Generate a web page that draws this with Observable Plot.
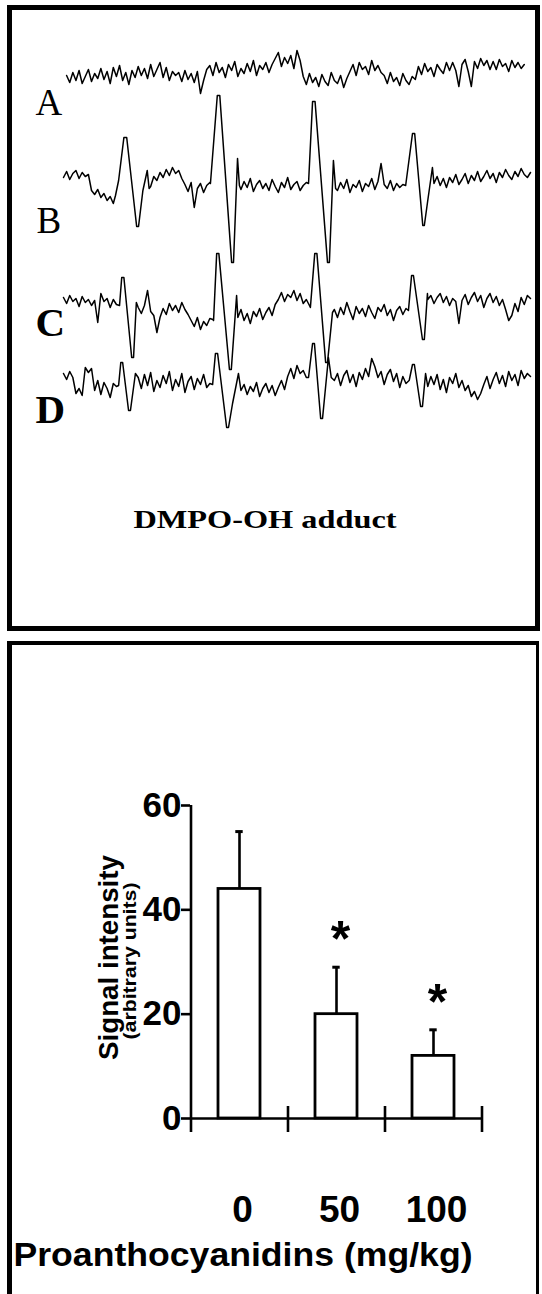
<!DOCTYPE html>
<html>
<head>
<meta charset="utf-8">
<script src="https://cdn.jsdelivr.net/npm/d3@7"></script>
<script src="https://cdn.jsdelivr.net/npm/@observablehq/plot@0.6"></script>
<style>
html,body{margin:0;padding:0;background:#fff;}
#page{position:relative;width:542px;height:1294px;overflow:hidden;background:#fff;}
.box{position:absolute;box-sizing:border-box;border-style:solid;border-color:#000;background:transparent;}
#topbox{left:7px;top:5px;width:533px;height:626px;border-width:5px;}
#botbox{left:7px;top:641px;width:532px;height:700px;border-width:4.5px 3px 0 5px;}
#page svg{position:absolute;left:0;}
</style>
</head>
<body>
<div id="page"></div>
<script>
// ---------- Top panel: ESR spectra (DMPO-OH adduct) ----------
const _ = null;
const traceNames = ["A", "B", "C", "D"];
const traceStart = [1, 0, 0, 0];          // first field sample of each trace
const traceOffset = [0, -106, -231, -308]; // vertical stacking of the spectra

// baseline readings (signal, arbitrary units) at field steps of 1; null = inside a line
const noiseA = [-1,-8,2,-6,4,-9,-2,5,-7,1,-4,6,
 -5,3,-9,7,-2,9,-6,2,-10,4,-3,8,-1,
 6,-4,10,-2,5,12,-3,7,-6,3,-1,
 2,-7,4,-5,1,-8,3,-19,-6,5,
 9,-1,12,2,7,-3,10,4,13,-2,6,
 1,11,3,14,-1,9,5,12,2,10,
 16,22,8,17,11,19,6,24,14,
 -2,-10,1,-8,-3,-12,0,-7,-11,2,-6,-9,-1,-13,-4,
 3,10,-1,12,5,8,0,14,4,9,2,
 -1,-9,2,-7,-3,-11,1,-6,-10,-2,-5,
 8,0,11,3,7,-2,10,5,1,12,4,
 12,4,-12,10,15,3,-12,13,6,16,9,14,5,
 13,5,15,8,11,3,14,7,12,6,10];
const noiseB = [3,9,1,7,10,2,8,4,6,
 -10,-14,-9,-17,-13,-20,-16,-23,
 _,_,_,_,_,_,_,_,_,_,_,
 -6,4,0,8,3,11,5,13,7,10,2,
 -4,-11,-2,-27,-8,-3,-12,-5,-2,
 _,_,_,_,_,_,_,_,_,
 -9,-1,-7,2,-11,-4,0,-8,-3,-10,1,-6,-12,-2,-7,3,-9,-4,-1,-10,-5,-2,
 _,_,_,_,_,_,_,_,_,
 -10,-2,-8,1,-12,-4,-7,0,-11,-3,-6,2,-9,-1,17,-4,-8,0,-10,-3,-7,-4,
 _,_,_,_,_,_,_,_,_,
 -3,4,-5,2,-7,3,-2,6,-4,1,7,-3,5,0,9,-1,4,10,2,7,-2,8,3,11,5,1,9,4,12,6,3,8];
const noiseC = [8,2,10,4,7,-1,9,3,6,0,5,-17,
 12,4,7,-2,6,1,
 _,_,_,_,_,_,
 -2,-8,0,15,-6,-10,-27,-12,-3,-9,2,-5,0,-7,3,-4,-9,-15,-21,-12,-24,-16,-20,-13,
 -14,
 _,_,_,_,_,_,_,
 -12,-4,-15,-8,-18,-6,-11,-3,-14,-7,-2,-10,1,6,13,4,11,8,15,5,12,2,6,
 0,
 _,_,_,_,_,_,_,
 -4,-12,-2,-9,3,-6,-14,-1,-8,-3,-11,0,-7,-13,-2,-6,1,-10,-4,-15,-5,-1,-9,-3,
 _,_,_,_,_,_,
 6,10,2,8,12,3,9,0,7,4,-18,5,11,1,8,13,4,10,-2,7,12,3,9,0,6,-4,-15,-10,2,-6,8,1,10,7];
const noiseD = [9,3,11,5,
 -11,-6,-13,
 15,10,14,
 -8,2,-12,0,-6,-15,-1,-4,
 _,_,_,_,_,_,
 5,-6,8,-3,10,-9,2,-5,7,-1,11,-8,3,-4,9,-10,1,6,-7,4,-2,8,-5,-1,
 _,_,_,_,_,_,_,_,_,
 -8,-2,-12,-4,-9,0,-14,-6,-1,-10,-3,-13,-5,2,-7,6,14,4,17,9,12,5,
 _,_,_,_,_,_,_,_,
 2,9,-3,7,12,0,8,-4,10,3,14,6,24,16,5,11,-2,8,13,1,9,-5,6,-1,2,
 _,_,_,_,_,
 -4,6,-2,8,-7,3,-10,5,-1,9,-5,2,-8,-3,-14,-9,-17,-11,-2,6,-6,3,10,-1,7,-4,11,2,8,-3,12,4,9,6];

// the four DMPO-OH lines, [field, signal]
const linesA = [];
const linesB = [[16.7,-15],[17.7,0],[19.4,43],[20.3,43],[23.5,-46],[24.1,-46],[25.5,-10],[26.9,10],[27.5,-8],
 [47.2,-3],[49.4,85],[50.2,85],[54.0,-82],[54.6,-82],[55.9,22],[56.5,-5],
 [78.7,-3],[80.0,79],[80.8,79],[84.8,-82],[85.4,-82],[86.7,20],[87.4,-8],
 [109.9,-5],[112.1,47],[112.8,47],[115.4,-45],[115.9,-45],[117.0,-20],[118.5,13]];
const linesC = [[18.0,0],[18.7,28],[19.4,28],[21.9,-52],[22.5,-52],[23.4,3],
 [48.2,-15],[49.2,52],[49.9,52],[53.3,-64],[53.9,-64],[55.6,10],
 [79.3,-2],[80.7,52],[81.4,52],[84.2,-57],[84.8,-57],[86.4,-7],
 [110.8,-5],[111.8,30],[112.4,30],[115.3,-34],[115.9,-34],[116.9,12]];
const linesD = [[17.7,-3],[18.4,20],[19.0,20],[20.9,-28],[21.5,-28],[23.1,9],
 [47.9,-2],[48.8,29],[49.5,29],[52.4,-45],[53.0,-45],[54.3,-21],[56.2,9],
 [78.7,5],[80.0,39],[80.6,39],[82.6,-36],[83.2,-36],[85.1,25],[86.0,5],
 [111.1,3],[112.1,18],[112.7,18],[114.7,-24],[115.3,-24],[116.3,9]];
const spectrumCaption = "DMPO-OH adduct";

// ---------- Bottom panel: bar chart ----------
const doses = ["0", "50", "100"];
const means = [44, 20, 12];
const sds = [11, 9, 5];
const significance = ["", "*", "*"];
const yTicks = [0, 20, 40, 60];
const yLabel = "Signal intensity";
const yUnits = "(arbitrary units)";
const xLabel = "Proanthocyanidins (mg/kg)";

// ---------- build tables ----------
const noises = [noiseA, noiseB, noiseC, noiseD];
const lines = [linesA, linesB, linesC, linesD];
const spectra = [];
traceNames.forEach((name, k) => {
  const pts = [];
  noises[k].forEach((v, i) => { if (v !== null) pts.push([traceStart[k] + i, v]); });
  lines[k].forEach(p => pts.push(p));
  pts.sort((a, b) => a[0] - b[0]);
  pts.forEach(([f, v]) => spectra.push({trace: name, field: f, signal: v + traceOffset[k]}));
});
const labelRows = traceNames.map((name, k) => ({name, off: traceOffset[k]}));
const rows = doses.map((d, i) => ({dose: d, mean: means[i], sd: sds[i], sig: significance[i]}));

const serif = "'Liberation Serif','Times New Roman',serif";
const sans = "'Liberation Sans',Arial,Helvetica,sans-serif";

const topPlot = Plot.plot({
  width: 542, height: 632,
  marginLeft: 0, marginRight: 0, marginTop: 0, marginBottom: 0,
  style: {background: "transparent", overflow: "visible"},
  x: {domain: [0, 150], range: [63, 530], axis: null},
  y: {domain: [0, -100], range: [74, 174], axis: null},
  marks: [
    Plot.line(spectra, {x: "field", y: "signal", z: "trace", stroke: "#000", strokeWidth: 1.5, strokeLinejoin: "round"}),
    Plot.text(labelRows.filter(d => d.name === "A"), {y: "off", text: "name", frameAnchor: "left", dx: 35, dy: 40, textAnchor: "start", lineAnchor: "bottom", fontFamily: serif, fontSize: 37, fill: "#000"}),
    Plot.text(labelRows.filter(d => d.name === "B"), {y: "off", text: "name", frameAnchor: "left", dx: 36, dy: 52, textAnchor: "start", lineAnchor: "bottom", fontFamily: serif, fontSize: 37, fill: "#000"}),
    Plot.text(labelRows.filter(d => d.name === "C"), {y: "off", text: "name", frameAnchor: "left", dx: 35, dy: 30, textAnchor: "start", lineAnchor: "bottom", fontFamily: serif, fontWeight: "bold", fontSize: 41, fill: "#000"}),
    Plot.text(labelRows.filter(d => d.name === "D"), {y: "off", text: "name", frameAnchor: "left", dx: 35, dy: 40, textAnchor: "start", lineAnchor: "bottom", fontFamily: serif, fontWeight: "bold", fontSize: 41, fill: "#000"}),
    Plot.text([spectrumCaption], {frameAnchor: "top-left", dx: 133, dy: 527, textAnchor: "start", lineAnchor: "bottom", fontFamily: serif, fontWeight: "bold", fontSize: 26, fill: "#000"})
  ]
});
topPlot.style.top = "0px";

const half = 48.5;
const botPlot = Plot.plot({
  width: 542, height: 654,
  marginLeft: 190, marginRight: 61, marginTop: 165, marginBottom: 176,
  style: {background: "transparent", overflow: "visible"},
  x: {type: "band", domain: doses, paddingInner: 0.57, paddingOuter: 0.285, axis: null},
  y: {domain: [0, 60], axis: null},
  marks: [
    Plot.barY(rows, {x: "dose", y: "mean", fill: "#fff", stroke: "#000", strokeWidth: 2.8}),
    Plot.ruleX(rows, {x: "dose", y1: "mean", y2: d => d.mean + d.sd, stroke: "#000", strokeWidth: 2.6}),
    Plot.ruleY(rows, {y: d => d.mean + d.sd, x1: "dose", x2: "dose", insetLeft: 17.3, insetRight: 17.3, stroke: "#000", strokeWidth: 3}),
    Plot.ruleY([0], {stroke: "#000", strokeWidth: 2.6}),
    Plot.ruleX([doses[0]], {x: d => d, dx: -half, y1: 0, y2: 60, insetTop: 14, stroke: "#000", strokeWidth: 2.6}),
    Plot.ruleX(doses, {x: d => d, dx: half, y1: 0, y2: 0, insetTop: 14, insetBottom: 12, stroke: "#000", strokeWidth: 2.6}),
    Plot.ruleY(yTicks, {y: d => d, insetLeft: -9, insetRight: 291, stroke: "#000", strokeWidth: 2.6}),
    Plot.text(yTicks, {y: d => d, text: d => String(d), frameAnchor: "left", dx: -9, textAnchor: "end", lineAnchor: "middle", fontFamily: sans, fontWeight: "bold", fontSize: 35, fill: "#000"}),
    Plot.text(doses, {x: d => d, text: d => d, frameAnchor: "bottom", dx: 3, dy: 103, textAnchor: "middle", lineAnchor: "bottom", fontFamily: sans, fontWeight: "bold", fontSize: 37, fill: "#000"}),
    Plot.text(rows.filter(d => d.sig), {x: "dose", y: d => d.mean + d.sd, text: "sig", dx: 4, dy: -27, textAnchor: "middle", lineAnchor: "middle", fontFamily: sans, fontWeight: "bold", fontSize: 50, fill: "#000"}),
    Plot.text([yLabel], {frameAnchor: "left", dx: -81, dy: -4.5, rotate: -90, textAnchor: "middle", lineAnchor: "middle", fontFamily: sans, fontWeight: "bold", fontSize: 28, fill: "#000"}),
    Plot.text([yUnits], {frameAnchor: "left", dx: -60, dy: -1, rotate: -90, textAnchor: "middle", lineAnchor: "middle", fontFamily: sans, fontWeight: "bold", fontSize: 18, fill: "#000"}),
    Plot.text([xLabel], {frameAnchor: "bottom-left", dx: -177, dy: 147, textAnchor: "start", lineAnchor: "bottom", fontFamily: sans, fontWeight: "bold", fontSize: 34, fill: "#000"})
  ]
});
botPlot.style.top = "640px";

// stretch a few labels to the widths measured on the figure
const stretch = {[spectrumCaption]: 263, [xLabel]: 459, [yLabel]: 205, [yUnits]: 157};
[topPlot, botPlot].forEach(svg => {
  svg.querySelectorAll("text").forEach(t => {
    const w = stretch[t.textContent];
    if (w) { t.setAttribute("textLength", w); t.setAttribute("lengthAdjust", "spacingAndGlyphs"); }
  });
});

const page = document.getElementById("page");
page.appendChild(topPlot);
page.appendChild(botPlot);
const tb = document.createElement("div"); tb.className = "box"; tb.id = "topbox"; page.appendChild(tb);
const bb = document.createElement("div"); bb.className = "box"; bb.id = "botbox"; page.appendChild(bb);
</script>
</body>
</html>
